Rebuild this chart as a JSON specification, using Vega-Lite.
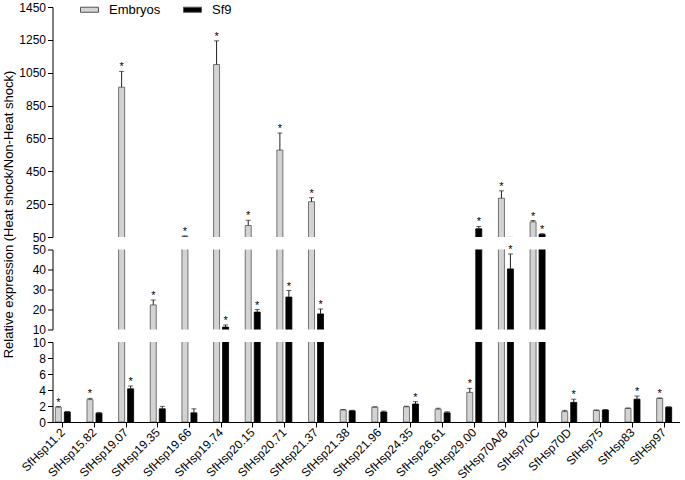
{
  "$schema": "https://vega.github.io/schema/vega-lite/v6.json",
  "padding": {"left": 2, "top": 0, "right": 0, "bottom": 0},
  "background": "white",
  "bounds": "flush",
  "spacing": 12.5,
  "data": {"values": [
    {"gene": "SfHsp11.2", "group": "Embryos", "value": 1.85, "upper": 1.93, "sig": "*"},
    {"gene": "SfHsp11.2", "group": "Sf9", "value": 1.25, "upper": 1.32, "sig": ""},
    {"gene": "SfHsp15.82", "group": "Embryos", "value": 2.8, "upper": 2.95, "sig": "*"},
    {"gene": "SfHsp15.82", "group": "Sf9", "value": 1.1, "upper": 1.2, "sig": ""},
    {"gene": "SfHsp19.07", "group": "Embryos", "value": 962, "upper": 1058, "sig": "*"},
    {"gene": "SfHsp19.07", "group": "Sf9", "value": 4.15, "upper": 4.5, "sig": "*"},
    {"gene": "SfHsp19.35", "group": "Embryos", "value": 22.3, "upper": 24.8, "sig": "*"},
    {"gene": "SfHsp19.35", "group": "Sf9", "value": 1.65, "upper": 1.95, "sig": ""},
    {"gene": "SfHsp19.66", "group": "Embryos", "value": 53, "upper": 57, "sig": "*"},
    {"gene": "SfHsp19.66", "group": "Sf9", "value": 1.15, "upper": 1.65, "sig": ""},
    {"gene": "SfHsp19.74", "group": "Embryos", "value": 1100, "upper": 1244, "sig": "*"},
    {"gene": "SfHsp19.74", "group": "Sf9", "value": 11.2, "upper": 12.3, "sig": "*"},
    {"gene": "SfHsp20.15", "group": "Embryos", "value": 120, "upper": 152, "sig": "*"},
    {"gene": "SfHsp20.15", "group": "Sf9", "value": 18.7, "upper": 20.0, "sig": "*"},
    {"gene": "SfHsp20.71", "group": "Embryos", "value": 579, "upper": 683, "sig": "*"},
    {"gene": "SfHsp20.71", "group": "Sf9", "value": 26.2, "upper": 29.5, "sig": "*"},
    {"gene": "SfHsp21.37", "group": "Embryos", "value": 265, "upper": 289, "sig": "*"},
    {"gene": "SfHsp21.37", "group": "Sf9", "value": 17.8, "upper": 20.3, "sig": "*"},
    {"gene": "SfHsp21.38", "group": "Embryos", "value": 1.5, "upper": 1.56, "sig": ""},
    {"gene": "SfHsp21.38", "group": "Sf9", "value": 1.4, "upper": 1.46, "sig": ""},
    {"gene": "SfHsp21.96", "group": "Embryos", "value": 1.85, "upper": 1.9, "sig": ""},
    {"gene": "SfHsp21.96", "group": "Sf9", "value": 1.25, "upper": 1.37, "sig": ""},
    {"gene": "SfHsp24.35", "group": "Embryos", "value": 1.9, "upper": 1.97, "sig": ""},
    {"gene": "SfHsp24.35", "group": "Sf9", "value": 2.25, "upper": 2.55, "sig": "*"},
    {"gene": "SfHsp26.61", "group": "Embryos", "value": 1.6, "upper": 1.72, "sig": ""},
    {"gene": "SfHsp26.61", "group": "Sf9", "value": 1.15, "upper": 1.28, "sig": ""},
    {"gene": "SfHsp29.00", "group": "Embryos", "value": 3.7, "upper": 4.2, "sig": "*"},
    {"gene": "SfHsp29.00", "group": "Sf9", "value": 100, "upper": 114, "sig": "*"},
    {"gene": "SfHsp70A/B", "group": "Embryos", "value": 286, "upper": 331, "sig": "*"},
    {"gene": "SfHsp70A/B", "group": "Sf9", "value": 40.3, "upper": 47.8, "sig": "*"},
    {"gene": "SfHsp70C", "group": "Embryos", "value": 142, "upper": 150, "sig": "*"},
    {"gene": "SfHsp70C", "group": "Sf9", "value": 66, "upper": 70, "sig": "*"},
    {"gene": "SfHsp70D", "group": "Embryos", "value": 1.3, "upper": 1.45, "sig": ""},
    {"gene": "SfHsp70D", "group": "Sf9", "value": 2.45, "upper": 2.85, "sig": "*"},
    {"gene": "SfHsp75", "group": "Embryos", "value": 1.45, "upper": 1.5, "sig": ""},
    {"gene": "SfHsp75", "group": "Sf9", "value": 1.5, "upper": 1.55, "sig": ""},
    {"gene": "SfHsp83", "group": "Embryos", "value": 1.7, "upper": 1.75, "sig": ""},
    {"gene": "SfHsp83", "group": "Sf9", "value": 2.85, "upper": 3.25, "sig": "*"},
    {"gene": "SfHsp97", "group": "Embryos", "value": 2.95, "upper": 3.0, "sig": "*"},
    {"gene": "SfHsp97", "group": "Sf9", "value": 1.85, "upper": 1.9, "sig": ""}
  ]},
  "resolve": {"legend": {"color": "independent"}},
  "vconcat": [
    {
      "width": 633, "height": 230,
      "layer": [
        {"mark": {"type": "bar", "clip": true, "strokeWidth": 0.8},
         "encoding": {
           "x": {"field": "gene", "type": "nominal", "sort": null, "scale": {"paddingInner": 0.526, "paddingOuter": 0.263}, "axis": null},
           "xOffset": {"field": "group", "type": "nominal", "scale": {"paddingInner": 0.333, "paddingOuter": 0}},
           "y": {"field": "value", "type": "quantitative", "scale": {"domain": [50, 1450], "nice": false, "zero": false},
                 "axis": {"values": [50, 250, 450, 650, 850, 1050, 1250, 1450], "format": "d", "labelOverlap": false, "offset": -5.5, "title": "Relative expression (Heat shock/Non-Heat shock)", "titleX": -44.5, "titleY": 207, "titleBaseline": "middle", "titleAlign": "center", "titleAngle": -90}},
           "color": {"field": "group", "type": "nominal", "scale": {"domain": ["Embryos", "Sf9"], "range": ["#d3d3d3", "#000000"]},
                     "legend": {"orient": "none", "direction": "horizontal", "title": null, "legendX": 33, "legendY": -7, "padding": 0,
                                "symbolType": "M-1,-0.28H1V0.28H-1Z", "symbolSize": 324, "symbolStrokeColor": "#555", "symbolStrokeWidth": 1,
                                "labelFontSize": 13, "labelOffset": 10, "columnPadding": 20, "labelColor": "#000", "labelFont": "Liberation Sans"}},
           "stroke": {"field": "group", "type": "nominal", "scale": {"domain": ["Embryos", "Sf9"], "range": ["#555555", "#000000"]}, "legend": null}
         }},
        {"mark": {"type": "rule", "clip": true, "color": "#222"},
         "encoding": {
           "x": {"field": "gene", "type": "nominal", "sort": null},
           "xOffset": {"field": "group", "type": "nominal"},
           "y": {"field": "value", "type": "quantitative",
                 "axis": {"values": [50, 250, 450, 650, 850, 1050, 1250, 1450], "format": "d", "labelOverlap": false, "offset": -5.5, "title": "Relative expression (Heat shock/Non-Heat shock)", "titleX": -44.5, "titleY": 207, "titleBaseline": "middle", "titleAlign": "center", "titleAngle": -90}},
           "y2": {"field": "upper"}
         }},
        {"mark": {"type": "tick", "clip": true, "color": "#222", "thickness": 1, "size": 5},
         "encoding": {
           "x": {"field": "gene", "type": "nominal", "sort": null},
           "xOffset": {"field": "group", "type": "nominal"},
           "y": {"field": "upper", "type": "quantitative",
                 "axis": {"values": [50, 250, 450, 650, 850, 1050, 1250, 1450], "format": "d", "labelOverlap": false, "offset": -5.5, "title": "Relative expression (Heat shock/Non-Heat shock)", "titleX": -44.5, "titleY": 207, "titleBaseline": "middle", "titleAlign": "center", "titleAngle": -90}}
         }},
        {"transform": [{"filter": "datum.sig == '*' && datum.upper >= 50"}],
         "mark": {"type": "text", "text": "*", "fontSize": 11, "baseline": "alphabetic", "dy": -1, "color": "#000"},
         "encoding": {
           "x": {"field": "gene", "type": "nominal", "sort": null},
           "xOffset": {"field": "group", "type": "nominal"},
           "y": {"field": "upper", "type": "quantitative",
                 "axis": {"values": [50, 250, 450, 650, 850, 1050, 1250, 1450], "format": "d", "labelOverlap": false, "offset": -5.5, "title": "Relative expression (Heat shock/Non-Heat shock)", "titleX": -44.5, "titleY": 207, "titleBaseline": "middle", "titleAlign": "center", "titleAngle": -90}}
         }}
      ]
    },
    {
      "width": 633, "height": 80,
      "layer": [
        {"mark": {"type": "bar", "clip": true, "strokeWidth": 0.8},
         "encoding": {
           "x": {"field": "gene", "type": "nominal", "sort": null, "scale": {"paddingInner": 0.526, "paddingOuter": 0.263}, "axis": null},
           "xOffset": {"field": "group", "type": "nominal", "scale": {"paddingInner": 0.333, "paddingOuter": 0}},
           "y": {"field": "value", "type": "quantitative", "scale": {"domain": [10, 50], "nice": false, "zero": false},
                 "axis": {"values": [10, 20, 30, 40, 50], "labelOverlap": false, "offset": -5.5, "title": null}},
           "color": {"field": "group", "type": "nominal", "scale": {"domain": ["Embryos", "Sf9"], "range": ["#d3d3d3", "#000000"]}, "legend": null},
           "stroke": {"field": "group", "type": "nominal", "scale": {"domain": ["Embryos", "Sf9"], "range": ["#555555", "#000000"]}, "legend": null}
         }},
        {"mark": {"type": "rule", "clip": true, "color": "#222"},
         "encoding": {
           "x": {"field": "gene", "type": "nominal", "sort": null},
           "xOffset": {"field": "group", "type": "nominal"},
           "y": {"field": "value", "type": "quantitative", "axis": {"values": [10, 20, 30, 40, 50], "labelOverlap": false, "offset": -5.5, "title": null}},
           "y2": {"field": "upper"}
         }},
        {"mark": {"type": "tick", "clip": true, "color": "#222", "thickness": 1, "size": 5},
         "encoding": {
           "x": {"field": "gene", "type": "nominal", "sort": null},
           "xOffset": {"field": "group", "type": "nominal"},
           "y": {"field": "upper", "type": "quantitative", "axis": {"values": [10, 20, 30, 40, 50], "labelOverlap": false, "offset": -5.5, "title": null}}
         }},
        {"transform": [{"filter": "datum.sig == '*' && datum.upper >= 10 && datum.upper < 50"}],
         "mark": {"type": "text", "text": "*", "fontSize": 11, "baseline": "alphabetic", "dy": -1, "color": "#000"},
         "encoding": {
           "x": {"field": "gene", "type": "nominal", "sort": null},
           "xOffset": {"field": "group", "type": "nominal"},
           "y": {"field": "upper", "type": "quantitative", "axis": {"values": [10, 20, 30, 40, 50], "labelOverlap": false, "offset": -5.5, "title": null}}
         }}
      ]
    },
    {
      "width": 633, "height": 80,
      "layer": [
        {"mark": {"type": "bar", "clip": true, "strokeWidth": 0.8},
         "encoding": {
           "x": {"field": "gene", "type": "nominal", "sort": null, "scale": {"paddingInner": 0.526, "paddingOuter": 0.263},
                 "axis": {"labelAngle": -45, "labelAlign": "right", "labelBaseline": "middle", "labelPadding": 3, "tickSize": 5, "title": null, "labelFontSize": 12, "labelOverlap": false}},
           "xOffset": {"field": "group", "type": "nominal", "scale": {"paddingInner": 0.333, "paddingOuter": 0}},
           "y": {"field": "value", "type": "quantitative", "scale": {"domain": [0, 10], "nice": false},
                 "axis": {"values": [0, 2, 4, 6, 8, 10], "labelOverlap": false, "offset": -5.5, "title": null}},
           "color": {"field": "group", "type": "nominal", "scale": {"domain": ["Embryos", "Sf9"], "range": ["#d3d3d3", "#000000"]}, "legend": null},
           "stroke": {"field": "group", "type": "nominal", "scale": {"domain": ["Embryos", "Sf9"], "range": ["#555555", "#000000"]}, "legend": null}
         }},
        {"mark": {"type": "rule", "clip": true, "color": "#222"},
         "encoding": {
           "x": {"field": "gene", "type": "nominal", "sort": null, "axis": {"labelAngle": -45, "labelAlign": "right", "labelBaseline": "middle", "labelPadding": 3, "tickSize": 5, "title": null, "labelFontSize": 12, "labelOverlap": false}},
           "xOffset": {"field": "group", "type": "nominal"},
           "y": {"field": "value", "type": "quantitative", "axis": {"values": [0, 2, 4, 6, 8, 10], "labelOverlap": false, "offset": -5.5, "title": null}},
           "y2": {"field": "upper"}
         }},
        {"mark": {"type": "tick", "clip": true, "color": "#222", "thickness": 1, "size": 5},
         "encoding": {
           "x": {"field": "gene", "type": "nominal", "sort": null, "axis": {"labelAngle": -45, "labelAlign": "right", "labelBaseline": "middle", "labelPadding": 3, "tickSize": 5, "title": null, "labelFontSize": 12, "labelOverlap": false}},
           "xOffset": {"field": "group", "type": "nominal"},
           "y": {"field": "upper", "type": "quantitative", "axis": {"values": [0, 2, 4, 6, 8, 10], "labelOverlap": false, "offset": -5.5, "title": null}}
         }},
        {"transform": [{"filter": "datum.sig == '*' && datum.upper < 10"}],
         "mark": {"type": "text", "text": "*", "fontSize": 11, "baseline": "alphabetic", "dy": -1, "color": "#000"},
         "encoding": {
           "x": {"field": "gene", "type": "nominal", "sort": null, "axis": {"labelAngle": -45, "labelAlign": "right", "labelBaseline": "middle", "labelPadding": 3, "tickSize": 5, "title": null, "labelFontSize": 12, "labelOverlap": false}},
           "xOffset": {"field": "group", "type": "nominal"},
           "y": {"field": "upper", "type": "quantitative", "axis": {"values": [0, 2, 4, 6, 8, 10], "labelOverlap": false, "offset": -5.5, "title": null}}
         }}
      ]
    }
  ],
  "config": {
    "font": "Liberation Sans",
    "view": {"stroke": null},
    "axis": {"grid": false, "domainColor": "#000", "tickColor": "#000", "labelColor": "#000", "titleColor": "#000",
             "labelFont": "Liberation Sans", "titleFont": "Liberation Sans", "labelFontSize": 12, "titleFontSize": 13,
             "titleFontWeight": "normal", "tickSize": 5, "labelPadding": 2, "domainWidth": 1, "tickWidth": 1, "labelOverlap": false}
  }
}
